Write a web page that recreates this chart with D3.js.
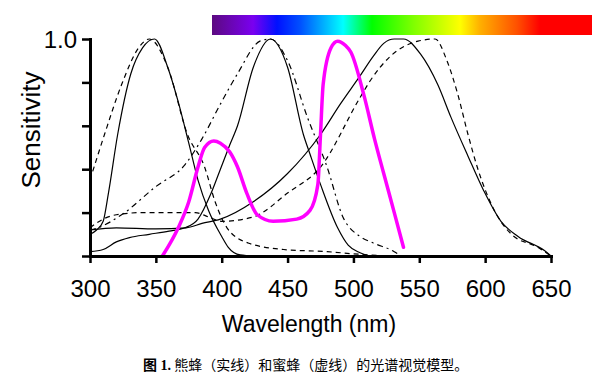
<!DOCTYPE html>
<html>
<head>
<meta charset="utf-8">
<script src="https://cdn.jsdelivr.net/npm/d3@7"></script>
<style>
  body { margin: 0; background: #fff; }
  svg text { font-family: "Liberation Sans", Arial, sans-serif; fill: #000; }
</style>
</head>
<body>
<div id="body"></div>
<script>
// x ticks and y ticks
var xTicks = [300, 350, 400, 450, 500, 550, 600, 650];
var yTicks = [0, 0.2, 0.4, 0.6, 0.8, 1.0];

// bumblebee (solid)
var bumbleUV = [[300,0.10],[305,0.12],[310,0.16],[314,0.29],[321,0.56],[331,0.84],[340,0.96],[349,1.0],[359,0.87],[367,0.71],[375,0.52],[382,0.35],[390,0.21],[400,0.09],[405,0.04],[414,0.005],[425,0]];
var bumbleBlue = [[300,0.02],[310,0.03],[320,0.065],[330,0.085],[345,0.10],[360,0.115],[372,0.13],[382,0.17],[392,0.29],[399,0.40],[406,0.51],[412,0.60],[424,0.87],[437,1.0],[450,0.87],[462,0.56],[467,0.47],[475,0.33],[488,0.13],[496,0.05],[505,0.015],[512,0]];
var bumbleGreen = [[300,0.12],[320,0.13],[350,0.125],[373,0.13],[385,0.15],[399,0.17],[424,0.25],[450,0.38],[475,0.56],[490,0.70],[505,0.83],[515,0.92],[523,0.98],[531,1.0],[538,1.0],[551,0.93],[564,0.79],[574,0.64],[587,0.46],[599,0.30],[612,0.16],[625,0.09],[645,0.025],[650,0]];

// honeybee (dashed)
var honeyUV = [[300,0.35],[311,0.56],[324,0.79],[337,0.96],[345,1.0],[359,0.87],[374,0.56],[387,0.41],[395,0.25],[404,0.13],[420,0.06],[447,0.03],[480,0.02],[500,0.01],[525,0]];
var honeyBlue = [[300,0.12],[306,0.13],[324,0.19],[350,0.32],[372,0.42],[385,0.54],[399,0.70],[412,0.84],[429,0.99],[437,1.0],[450,0.90],[465,0.64],[480,0.41],[492,0.18],[505,0.09],[515,0.06],[531,0.02],[536,0]];
var honeyGreen = [[300,0.13],[310,0.17],[320,0.19],[340,0.20],[380,0.20],[390,0.18],[400,0.16],[424,0.18],[450,0.29],[475,0.41],[505,0.73],[513,0.81],[528,0.92],[549,0.99],[562,1.0],[571,0.90],[579,0.75],[587,0.56],[594,0.41],[607,0.21],[620,0.10],[640,0.04],[650,0]];

// magenta curve
var magenta = [[355,0],[367,0.13],[375,0.25],[382,0.41],[387,0.50],[394,0.53],[399,0.52],[406,0.48],[412,0.41],[419,0.29],[427,0.19],[439,0.16],[457,0.17],[467,0.21],[473,0.33],[475,0.56],[477,0.79],[483,0.96],[488,0.99],[494,0.97],[498,0.94],[508,0.74],[516,0.54],[523,0.38],[531,0.20],[538,0.04]];

// spectrum bar colour stops
var spectrumOffsets = [0, 0.108, 0.171, 0.232, 0.345, 0.421, 0.53, 0.653, 0.705, 0.803, 0.863, 1];
var spectrumColors = ['#5c0a80', '#7a00f0', '#0010ff', '#0050ff', '#00ffff', '#00ff00', '#7fff00', '#ffff00', '#ffb000', '#ff5000', '#ff0000', '#ff0000'];

var width = 600, height = 382;
var svg = d3.select('#body').append('svg')
    .attr('width', width)
    .attr('height', height);

var x = d3.scaleLinear().domain([300, 650]).range([90, 551]);
var y = d3.scaleLinear().domain([0, 1]).range([256, 39]);

// spectrum bar
var grad = svg.append('defs').append('linearGradient')
    .attr('id', 'spectrum')
    .attr('x1', '0%').attr('x2', '100%').attr('y1', '0%').attr('y2', '0%');
grad.selectAll('stop')
    .data(spectrumOffsets)
    .enter()
    .append('stop')
    .attr('offset', d => d)
    .attr('stop-color', (d, i) => spectrumColors[i]);
svg.append('rect')
    .attr('x', 212)
    .attr('y', 15)
    .attr('width', 380)
    .attr('height', 20)
    .attr('fill', 'url(#spectrum)');

// curves
var line = d3.line()
    .x(d => x(d[0]))
    .y(d => y(d[1]))
    .curve(d3.curveMonotoneX);

var curves = [
    {data: bumbleUV, dash: null},
    {data: bumbleBlue, dash: null},
    {data: bumbleGreen, dash: null},
    {data: honeyUV, dash: '5,4'},
    {data: honeyBlue, dash: '6,4,2,4'},
    {data: honeyGreen, dash: '5,4'}
];
svg.append('g')
    .selectAll('path')
    .data(curves)
    .enter()
    .append('path')
    .attr('d', d => line(d.data))
    .attr('fill', 'none')
    .attr('stroke', '#000')
    .attr('stroke-width', 1.2)
    .attr('stroke-dasharray', d => d.dash);

svg.append('path')
    .attr('d', line(magenta))
    .attr('fill', 'none')
    .attr('stroke', '#ff00ff')
    .attr('stroke-width', 3.5)
    .attr('stroke-linecap', 'round')
    .attr('stroke-linejoin', 'round');

// axes
var xAxis = d3.axisBottom(x)
    .tickValues(xTicks)
    .tickSizeInner(7)
    .tickSizeOuter(0)
    .tickPadding(17)
    .tickFormat(d3.format('d'));
var gx = svg.append('g')
    .attr('transform', `translate(0, ${y(0)})`)
    .call(xAxis);

var yAxis = d3.axisLeft(y)
    .tickValues(yTicks)
    .tickSizeInner(8)
    .tickSizeOuter(0)
    .tickPadding(5)
    .tickFormat(d => d === 1 ? '1.0' : '');
var gy = svg.append('g')
    .attr('transform', `translate(${x(300)}, 0)`)
    .call(yAxis);

[gx, gy].forEach(g => {
    g.select('.domain').attr('stroke', '#000').attr('stroke-width', 3).attr('stroke-linecap', 'square');
    g.selectAll('.tick line').attr('stroke', '#000').attr('stroke-width', 2.5);
    g.selectAll('.tick text')
        .style('font-family', '"Liberation Sans", Arial, sans-serif')
        .style('font-size', '24px')
        .attr('fill', '#000');
});
gy.selectAll('.tick text').attr('dy', '0.36em');

// axis titles
svg.append('text')
    .attr('transform', 'translate(40, 130) rotate(-90)')
    .attr('text-anchor', 'middle')
    .style('font-size', '26px')
    .text('Sensitivity');

svg.append('text')
    .attr('x', 309)
    .attr('y', 332)
    .attr('text-anchor', 'middle')
    .style('font-size', '23px')
    .text('Wavelength (nm)');

// caption
var cap = svg.append('text')
    .attr('x', 143)
    .attr('y', 370)
    .style('font-size', '14px');
cap.append('tspan')
    .style('font-family', '"Liberation Serif", "Noto Sans CJK SC", serif')
    .style('font-weight', 'bold')
    .text('图 1.');
cap.append('tspan')
    .style('font-family', '"Noto Sans CJK SC", sans-serif')
    .text(' 熊蜂（实线）和蜜蜂（虚线）的光谱视觉模型。');
</script>
</body>
</html>
